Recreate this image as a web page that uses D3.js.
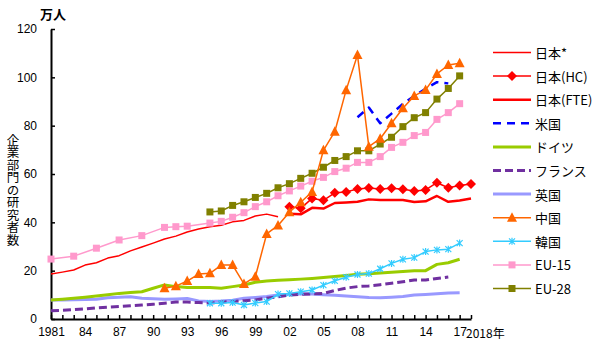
<!DOCTYPE html>
<html>
<head>
<meta charset="utf-8">
<script src="https://cdn.jsdelivr.net/npm/d3@7"></script>
<style>
  body { margin: 0; background: #fff; }
  svg { display: block; font-family: "Noto Sans CJK JP", "Noto Sans", sans-serif; }
</style>
</head>
<body>
<div id="chart"></div>
<script>
// 企業部門の研究者数 (万人), 1981-2018
const years = [1981,1982,1983,1984,1985,1986,1987,1988,1989,1990,
               1991,1992,1993,1994,1995,1996,1997,1998,1999,2000,
               2001,2002,2003,2004,2005,2006,2007,2008,2009,2010,
               2011,2012,2013,2014,2015,2016,2017,2018];

const japanStar = [18.6,19.4,20.3,22.3,23.3,25.2,26.2,28.2,29.8,31.4,
                   33.1,34.3,36.0,37.2,38.2,38.8,40.2,40.8,42.6,43.4,
                   42.3,null,null,null,null,null,null,null,null,null,
                   null,null,null,null,null,null,null,null];
const japanHC = [null,null,null,null,null,null,null,null,null,null,
                 null,null,null,null,null,null,null,null,null,null,
                 null,46.5,45.8,49.9,49.1,52.2,52.6,53.8,54.2,53.8,
                 54.1,53.7,53.0,53.4,56.4,54.3,55.2,55.9];
const japanFTE = [null,null,null,null,null,null,null,null,null,null,
                  null,null,null,null,null,null,null,null,null,null,
                  null,43.6,43.3,46.0,45.7,48.0,48.2,48.5,49.5,49.2,
                  49.2,49.2,48.4,48.7,50.9,48.5,49.0,49.9];
const usa = [null,null,null,null,null,null,null,null,null,null,
             null,null,null,null,null,null,null,null,null,null,
             null,null,null,null,null,null,null,83.5,87.5,81.0,
             85.0,89.0,92.3,95.3,98.0,97.5,null,null];
const germany = [7.9,8.2,8.6,9.0,9.5,10.0,10.6,11.0,11.3,12.7,
                 14.1,13.4,13.0,13.0,13.0,12.7,13.4,14.1,15.2,15.7,
                 16.0,16.2,16.5,16.8,17.2,17.6,18.0,18.5,18.7,19.0,
                 19.3,19.7,20.0,20.0,22.6,23.3,24.7,null];
const france = [3.4,3.6,3.9,4.2,4.6,4.9,5.2,5.5,5.8,6.1,
                6.5,7.0,7.0,6.8,6.6,7.0,7.2,7.6,7.9,8.6,
                9.2,9.9,10.2,10.4,10.6,11.8,12.8,13.4,13.7,14.2,
                14.8,15.4,16.1,16.1,16.8,17.4,null,null];
const uk = [7.9,7.9,8.0,8.1,8.2,8.8,9.0,9.2,8.6,8.4,
            8.2,8.3,8.5,7.5,7.2,7.4,7.8,8.6,8.9,9.3,
            9.9,10.2,10.4,10.3,10.0,9.8,9.5,9.2,8.9,8.8,
            9.0,9.3,9.9,10.1,10.4,10.8,10.9,null];
const china = [null,null,null,null,null,null,null,null,null,null,
               12.7,13.6,15.7,18.6,18.9,22.3,22.3,14.5,17.5,35.2,
               38.7,44.2,48.3,52.6,69.8,77.5,94.7,109.2,71.3,74.6,
               81.0,87.2,92.3,94.8,101.4,105.1,105.8,null];
const korea = [null,null,null,null,null,null,null,null,null,null,
               null,null,null,null,6.5,6.5,6.8,5.8,6.6,7.2,
               10.3,10.6,11.3,12.0,14.0,15.8,17.3,18.4,18.8,20.8,
               23.0,24.7,25.4,27.9,28.6,28.9,31.4,null];
const eu15 = [24.8,null,26.0,null,29.3,null,32.7,null,34.5,null,
              37.9,38.2,38.4,null,39.7,40.4,42.1,44.0,46.5,48.5,
              51.0,53.0,55.0,57.0,58.6,61.0,62.4,64.8,64.8,67.2,
              71.0,73.1,75.9,77.2,82.6,85.4,89.1,null];
const eu28 = [null,null,null,null,null,null,null,null,null,null,
              null,null,null,null,44.3,44.7,47.0,48.5,50.3,52.0,
              54.3,56.0,58.2,60.3,62.8,65.6,67.2,69.6,69.6,72.4,
              75.2,79.6,83.3,85.4,91.0,95.4,100.6,null];

const yTicks = [0,20,40,60,80,100,120];

const series = [
    { name: "日本*",     values: japanStar, color: "#ff0000", width: 1.5, dash: null, marker: null },
    { name: "日本(HC)",  values: japanHC,   color: "#ff0000", width: 1.5, dash: null, marker: "diamond" },
    { name: "日本(FTE)", values: japanFTE,  color: "#ff0000", width: 2.5, dash: null, marker: null },
    { name: "米国",      values: usa,       color: "#0000ff", width: 2.5, dash: "8 6", marker: null },
    { name: "ドイツ",    values: germany,   color: "#99cc00", width: 3,   dash: null, marker: null },
    { name: "フランス",  values: france,    color: "#7030a0", width: 3,   dash: "8 4", marker: null },
    { name: "英国",      values: uk,        color: "#9999ff", width: 3,   dash: null, marker: null },
    { name: "中国",      values: china,     color: "#ff6600", width: 1.5, dash: null, marker: "triangle" },
    { name: "韓国",      values: korea,     color: "#33ccff", width: 1.5, dash: null, marker: "star" },
    { name: "EU-15",     values: eu15,      color: "#ff99cc", width: 1.5, dash: null, marker: "square" },
    { name: "EU-28",     values: eu28,      color: "#808000", width: 1.5, dash: null, marker: "square" }
];

const width = 600, height = 353;

const svg = d3.select("#chart").append("svg")
    .attr("width", width)
    .attr("height", height);

svg.append("rect").attr("width", width).attr("height", height).attr("fill", "#fff");

const x = d3.scaleLinear().domain([1981, 2018]).range([51, 471]);
const y = d3.scaleLinear().domain([0, 120]).range([319, 29]);

// Axes
const yAxis = svg.append("g")
    .attr("transform", "translate(51,0)")
    .call(d3.axisLeft(y).tickValues(yTicks).tickSizeInner(-4).tickSizeOuter(0).tickPadding(14));

const xAxis = svg.append("g")
    .attr("transform", "translate(0,319)")
    .call(d3.axisBottom(x).tickValues(years).tickSizeInner(-4).tickSizeOuter(0).tickPadding(8)
        .tickFormat(d => {
            if (d === 1981) return "1981";
            if (d === 2018) return "";
            return (d - 1981) % 3 === 0 ? String(d % 100).padStart(2, "0") : "";
        }));

[yAxis, xAxis].forEach(a => {
    a.select(".domain").attr("stroke", "#000").attr("stroke-width", 2);
    a.selectAll(".tick line").attr("stroke", "#000").attr("stroke-width", 1.5);
    a.selectAll(".tick text").attr("fill", "#000").style("font-size", "12px");
});

svg.append("text")
    .attr("x", 466).attr("y", 332)
    .attr("dominant-baseline", "central")
    .style("font-size", "12px")
    .text("2018年");

svg.append("text")
    .attr("x", 53).attr("y", 13)
    .attr("text-anchor", "middle")
    .attr("dominant-baseline", "central")
    .style("font-size", "13px")
    .style("font-weight", "bold")
    .text("万人");

svg.append("text")
    .attr("x", 13).attr("y", 190)
    .attr("text-anchor", "middle")
    .style("writing-mode", "vertical-rl")
    .style("font-size", "12.5px")
    .text("企業部門の研究者数");

// Marker shapes
function drawMarker(g, type, cx, cy, color) {
    if (type === "square") {
        g.append("rect").attr("x", cx - 3.5).attr("y", cy - 3.5)
            .attr("width", 7).attr("height", 7).attr("fill", color);
    } else if (type === "diamond") {
        g.append("path").attr("d", `M${cx},${cy - 5}L${cx + 5},${cy}L${cx},${cy + 5}L${cx - 5},${cy}Z`)
            .attr("fill", color);
    } else if (type === "triangle") {
        g.append("path").attr("d", `M${cx},${cy - 5.5}L${cx + 5},${cy + 4}L${cx - 5},${cy + 4}Z`)
            .attr("fill", color);
    } else if (type === "star") {
        g.append("path").attr("d", `M${cx - 3},${cy - 3}L${cx + 3},${cy + 3}M${cx - 3},${cy + 3}L${cx + 3},${cy - 3}M${cx},${cy - 3.5}L${cx},${cy + 3.5}`)
            .attr("stroke", color).attr("stroke-width", 1.2).attr("fill", "none");
    }
}

const line = d3.line()
    .x(d => x(d.year))
    .y(d => y(d.value));

// draw back to front: thick base series first
const drawOrder = ["英国", "フランス", "ドイツ", "韓国", "日本*", "日本(FTE)", "日本(HC)", "EU-15", "EU-28", "米国", "中国"];

drawOrder.forEach(name => {
    const s = series.find(d => d.name === name);
    const pts = years.map((yr, i) => ({ year: yr, value: s.values[i] }))
        .filter(d => d.value !== null);

    const g = svg.append("g");
    g.append("path")
        .datum(pts)
        .attr("fill", "none")
        .attr("stroke", s.color)
        .attr("stroke-width", s.width)
        .attr("stroke-dasharray", s.dash)
        .attr("stroke-linejoin", "round")
        .attr("d", line);

    if (s.marker) {
        pts.forEach(p => drawMarker(g, s.marker, x(p.year), y(p.value), s.color));
    }
});

// Legend
const legend = svg.append("g");
series.forEach((s, i) => {
    const ly = 52.5 + i * 23.6;
    legend.append("line")
        .attr("x1", 493).attr("x2", 531)
        .attr("y1", ly).attr("y2", ly)
        .attr("stroke", s.color)
        .attr("stroke-width", s.width)
        .attr("stroke-dasharray", s.dash);
    if (s.marker) drawMarker(legend, s.marker, 512, ly, s.color);
    legend.append("text")
        .attr("x", 535).attr("y", ly)
        .attr("dominant-baseline", "central")
        .style("font-size", "13px")
        .text(s.name);
});
</script>
</body>
</html>
